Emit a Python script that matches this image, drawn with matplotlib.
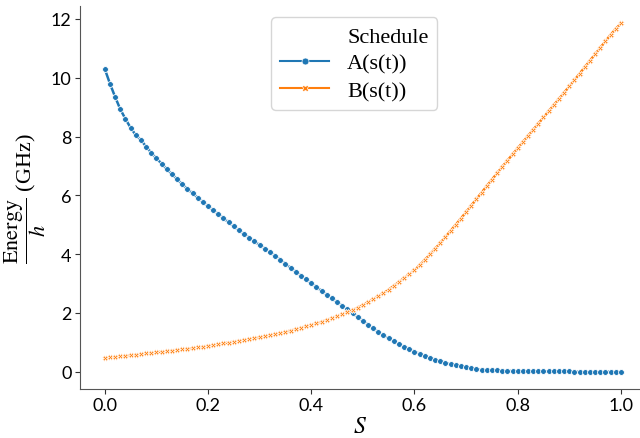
import numpy as np
import matplotlib
matplotlib.use("Agg")
from matplotlib import pyplot as plt
from matplotlib.lines import Line2D

# anneal fraction s, sampled every 0.01
s = np.round(np.arange(0, 101) * 0.01, 2)

a_vals = [10.30, 9.80, 9.35, 8.93, 8.60, 8.30, 8.05, 7.88, 7.66, 7.45,
          7.26, 7.08, 6.89, 6.72, 6.55, 6.38, 6.22, 6.07, 5.92, 5.77,
          5.63, 5.49, 5.36, 5.22, 5.08, 4.94, 4.81, 4.68, 4.56, 4.43,
          4.31, 4.19, 4.07, 3.94, 3.81, 3.67, 3.53, 3.40, 3.27, 3.14,
          3.01, 2.88, 2.75, 2.62, 2.49, 2.37, 2.24, 2.12, 1.99, 1.86,
          1.73, 1.60, 1.47, 1.35, 1.24, 1.13, 1.03, 0.94, 0.85, 0.77,
          0.68, 0.61, 0.54, 0.47, 0.41, 0.36, 0.31, 0.26, 0.22, 0.18,
          0.15, 0.12, 0.09, 0.07, 0.06, 0.05, 0.04, 0.03, 0.03, 0.02,
          0.02, 0.02, 0.01, 0.01, 0.01, 0.01, 0.01, 0.01, 0.01, 0.01,
          0.01, 0.00, 0.00, 0.00, 0.00, 0.00, 0.00, 0.00, 0.00, 0.00,
          0.00]

b_vals = [0.47, 0.49, 0.50, 0.52, 0.54, 0.56, 0.58, 0.60, 0.62, 0.64,
          0.66, 0.68, 0.70, 0.72, 0.74, 0.76, 0.78, 0.80, 0.83, 0.85,
          0.88, 0.90, 0.93, 0.96, 0.99, 1.02, 1.05, 1.08, 1.11, 1.14,
          1.17, 1.20, 1.24, 1.28, 1.31, 1.35, 1.40, 1.44, 1.49, 1.54,
          1.59, 1.64, 1.70, 1.76, 1.82, 1.88, 1.95, 2.02, 2.10, 2.18,
          2.27, 2.36, 2.46, 2.56, 2.67, 2.79, 2.92, 3.05, 3.19, 3.32,
          3.45, 3.62, 3.80, 3.99, 4.18, 4.38, 4.58, 4.79, 5.00, 5.21,
          5.43, 5.65, 5.87, 6.09, 6.31, 6.53, 6.75, 6.97, 7.18, 7.39,
          7.60, 7.81, 8.02, 8.23, 8.44, 8.65, 8.86, 9.07, 9.28, 9.49,
          9.71, 9.92, 10.14, 10.36, 10.58, 10.80, 11.02, 11.24, 11.46, 11.66,
          11.85]

series_names = ["A(s(t))", "B(s(t))"]
colors = ["#1f77b4", "#ff7f0e"]
markers = ["o", "X"]

plt.rcParams['mathtext.fontset'] = 'stix'

fig = plt.figure(figsize=(6.4, 4.39), dpi=100)
ax = fig.add_axes([0.125, 0.1116, 0.875, 0.8724])

for vals, name, c, m in zip([a_vals, b_vals], series_names, colors, markers):
    ax.plot(s, vals, color=c, marker=m, markersize=4.2, markeredgecolor='white',
            markeredgewidth=0.6, linewidth=1.8, label=name)

ax.set_xlim(-0.048, 1.037)
ax.set_ylim(-0.59, 12.44)
ax.set_xticks([0.0, 0.2, 0.4, 0.6, 0.8, 1.0])
ax.set_yticks([0, 2, 4, 6, 8, 10, 12])
for lab in ax.get_xticklabels() + ax.get_yticklabels():
    lab.set_fontfamily('Lato')
    lab.set_fontsize(13)
ax.tick_params(colors='#333333', labelcolor='black', pad=2.5)

ax.spines['top'].set_visible(False)
ax.spines['right'].set_visible(False)
for sp in ['left', 'bottom']:
    ax.spines[sp].set_color('#555555')

ax.set_xlabel(r'$S$', fontsize=17, labelpad=0)
ax.set_ylabel(r'$\dfrac{\mathrm{Energy}}{h}$ (GHz)', fontsize=16,
              fontfamily='Liberation Serif', labelpad=2)

handles = [Line2D([], [], linestyle='none')]
labels = ["Schedule"]
for name, c, m in zip(series_names, colors, markers):
    handles.append(Line2D([], [], color=c, marker=m, markersize=5,
                          markeredgecolor='white', markeredgewidth=0.5, linewidth=1.5))
    labels.append(name)
leg = ax.legend(handles, labels, loc='upper center', bbox_to_anchor=(0.49, 1.0),
                prop={'family': 'Liberation Serif', 'size': 16},
                handlelength=2.2, labelspacing=0.3, borderpad=0.4)

fig.savefig('out.png', dpi=100)
